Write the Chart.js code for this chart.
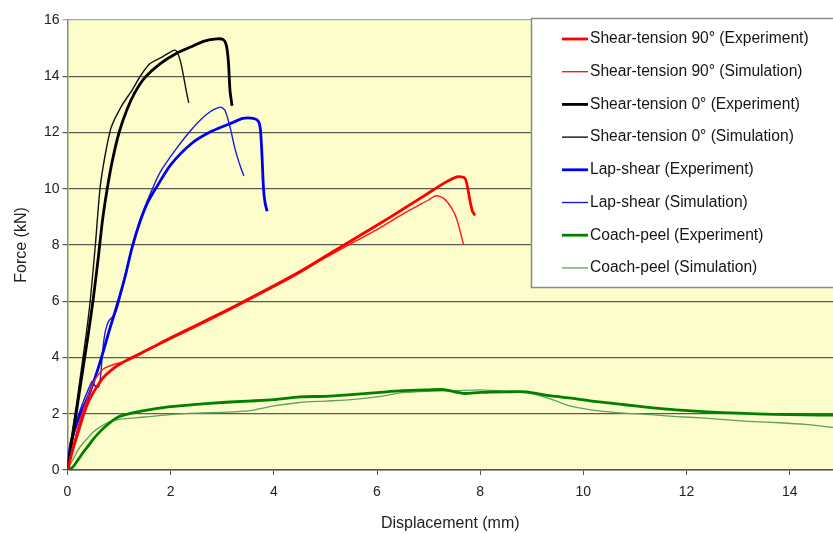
<!DOCTYPE html>
<html>
<head>
<meta charset="utf-8">
<script src="https://cdn.jsdelivr.net/npm/chart.js@4.4.1/dist/chart.umd.min.js"></script>
<style>
  html, body { margin: 0; padding: 0; background: #ffffff; }
  #wrap { width: 833px; height: 534px; position: relative; }
</style>
</head>
<body>
<div id="wrap"><canvas id="c" width="833" height="534"></canvas></div>
<script>
// ---- Data (displacement mm, force kN) ----
const seriesLabels = [
  'Shear-tension 90° (Experiment)',
  'Shear-tension 90° (Simulation)',
  'Shear-tension 0° (Experiment)',
  'Shear-tension 0° (Simulation)',
  'Lap-shear (Experiment)',
  'Lap-shear (Simulation)',
  'Coach-peel (Experiment)',
  'Coach-peel (Simulation)'
];

const st90Exp = [[0,0],[0.1,0.7],[0.2,1.3],[0.3,1.9],[0.4,2.4],[0.5,2.75],[0.6,3.05],[0.7,3.3],[0.85,3.55],[1.0,3.75],[1.25,4.0],[1.6,4.32],[2.0,4.7],[2.5,5.15],[3.0,5.6],[3.5,6.07],[4.0,6.55],[4.5,7.05],[5.0,7.6],[5.5,8.15],[6.0,8.7],[6.5,9.27],[7.0,9.85],[7.3,10.2],[7.55,10.42],[7.7,10.38],[7.75,10.1],[7.8,9.6],[7.85,9.2],[7.9,9.05]];
const st90Sim = [[0,0],[0.1,0.8],[0.2,1.5],[0.3,2.1],[0.4,2.6],[0.5,3.1],[0.6,3.4],[0.7,3.6],[0.9,3.75],[1.15,3.88],[1.3,4.0],[1.6,4.3],[2.0,4.65],[2.5,5.1],[3.0,5.55],[3.5,6.02],[4.0,6.5],[4.5,7.0],[5.0,7.55],[5.5,8.05],[6.0,8.55],[6.5,9.1],[7.0,9.6],[7.15,9.75],[7.3,9.65],[7.45,9.3],[7.55,8.9],[7.68,8.0]];
const st0Exp = [[0,0],[0.1,1.2],[0.2,2.4],[0.3,3.6],[0.4,4.8],[0.5,6.1],[0.6,7.6],[0.68,8.9],[0.77,10.0],[0.87,11.0],[1.0,12.0],[1.15,12.8],[1.3,13.4],[1.5,13.95],[1.8,14.45],[2.1,14.8],[2.4,15.05],[2.65,15.25],[2.9,15.33],[3.02,15.3],[3.08,15.1],[3.12,14.5],[3.15,13.5],[3.19,12.95]];
const st0Sim = [[0,0],[0.08,1.2],[0.18,2.4],[0.27,3.6],[0.36,4.8],[0.44,6.0],[0.54,8.0],[0.63,10.0],[0.73,11.2],[0.85,12.2],[1.05,12.95],[1.25,13.5],[1.41,14.0],[1.6,14.45],[1.85,14.7],[2.09,14.93],[2.18,14.6],[2.25,14.0],[2.3,13.5],[2.35,13.05]];
const lapExp = [[0,0],[0.05,0.8],[0.1,1.2],[0.2,1.75],[0.3,2.2],[0.4,2.6],[0.5,3.1],[0.6,3.65],[0.7,4.25],[0.8,4.9],[0.9,5.5],[1.0,6.1],[1.12,6.9],[1.25,7.9],[1.4,8.8],[1.55,9.5],[1.74,10.1],[2.0,10.85],[2.4,11.6],[2.8,12.05],[3.2,12.35],[3.4,12.5],[3.6,12.5],[3.7,12.4],[3.74,12.1],[3.77,11.2],[3.8,10.0],[3.83,9.5],[3.87,9.2]];
const lapSim = [[0,0],[0.05,0.9],[0.1,1.3],[0.2,1.9],[0.3,2.4],[0.4,2.85],[0.48,3.15],[0.53,3.0],[0.6,2.95],[0.64,3.3],[0.68,4.2],[0.73,4.9],[0.8,5.3],[0.92,5.55],[1.0,6.0],[1.1,6.8],[1.25,7.9],[1.4,8.85],[1.6,9.8],[1.8,10.6],[2.1,11.4],[2.4,12.1],[2.7,12.65],[2.96,12.9],[3.05,12.8],[3.15,12.2],[3.25,11.4],[3.35,10.8],[3.42,10.45]];
const peelExp = [[0,0],[0.1,0.1],[0.2,0.35],[0.3,0.62],[0.4,0.85],[0.5,1.1],[0.65,1.4],[0.8,1.65],[1.0,1.9],[1.3,2.05],[1.6,2.15],[2.0,2.25],[2.5,2.33],[3.0,2.4],[3.5,2.45],[4.0,2.5],[4.5,2.6],[5.0,2.62],[5.5,2.68],[6.0,2.75],[6.5,2.82],[7.0,2.85],[7.3,2.86],[7.5,2.78],[7.7,2.72],[8.0,2.76],[8.5,2.78],[8.9,2.78],[9.3,2.65],[9.8,2.55],[10.3,2.42],[10.8,2.32],[11.3,2.22],[11.8,2.14],[12.4,2.07],[13.0,2.02],[13.7,1.98],[14.3,1.96],[14.9,1.95]];
const peelSim = [[0,0],[0.1,0.35],[0.2,0.7],[0.3,0.95],[0.4,1.15],[0.5,1.35],[0.65,1.55],[0.8,1.7],[1.0,1.8],[1.3,1.85],[1.6,1.9],[2.0,1.97],[2.5,2.02],[3.0,2.05],[3.5,2.1],[4.0,2.28],[4.5,2.4],[5.0,2.45],[5.5,2.5],[6.0,2.6],[6.5,2.75],[7.0,2.8],[7.5,2.82],[8.0,2.85],[8.5,2.8],[9.0,2.72],[9.4,2.5],[9.8,2.25],[10.3,2.1],[10.8,2.02],[11.3,1.97],[11.8,1.9],[12.3,1.85],[12.8,1.78],[13.3,1.72],[13.8,1.68],[14.3,1.62],[14.9,1.5]];

const xTicks = [0, 2, 4, 6, 8, 10, 12, 14];
const yTicks = [0, 2, 4, 6, 8, 10, 12, 14, 16];

// ---- styles ----
const seriesData = [st90Exp, st90Sim, st0Exp, st0Sim, lapExp, lapSim, peelExp, peelSim];
const seriesColors = ['#ff0000', '#ff1a1a', '#000000', '#111111', '#0000f0', '#1a1ae0', '#008000', '#5fa05f'];
const seriesWidths = [2.8, 1.4, 2.8, 1.4, 2.8, 1.4, 2.8, 1.3];

const datasets = seriesData.map((d, i) => ({
  label: seriesLabels[i],
  data: d.map(p => ({x: p[0], y: p[1]})),
  borderColor: seriesColors[i],
  backgroundColor: seriesColors[i],
  borderWidth: seriesWidths[i],
  showLine: true,
  pointRadius: 0,
  tension: 0.25,
  fill: false
}));

const plotBg = {
  id: 'plotBg',
  beforeDraw(chart) {
    const {ctx, chartArea: a} = chart;
    ctx.save();
    ctx.fillStyle = '#fdfccb';
    ctx.fillRect(a.left, a.top, a.right - a.left, a.bottom - a.top);
    ctx.restore();
  }
};

const boxLegend = {
  id: 'boxLegend',
  afterDraw(chart) {
    const ctx = chart.ctx;
    const bx = 531.5, by = 18.5, bw = 310, bh = 269;
    ctx.save();
    ctx.fillStyle = '#ffffff';
    ctx.fillRect(bx, by, bw, bh);
    ctx.strokeStyle = '#8a8a80';
    ctx.lineWidth = 1.5;
    ctx.strokeRect(bx, by, bw, bh);
    ctx.font = '15.6px "Liberation Sans", Arial, sans-serif';
    ctx.textBaseline = 'middle';
    ctx.fillStyle = '#151515';
    chart.data.datasets.forEach((ds, i) => {
      const y = 39 + i * 32.7;
      ctx.strokeStyle = ds.borderColor;
      ctx.lineWidth = ds.borderWidth;
      ctx.beginPath();
      ctx.moveTo(562, y);
      ctx.lineTo(588, y);
      ctx.stroke();
      ctx.fillText(ds.label, 590, y);
    });
    ctx.restore();
  }
};

new Chart(document.getElementById('c'), {
  type: 'scatter',
  data: { datasets },
  options: {
    responsive: false,
    animation: false,
    layout: { padding: { top: 20, right: 0, left: 0, bottom: 0 } },
    plugins: { legend: { display: false }, tooltip: { enabled: false } },
    scales: {
      x: {
        type: 'linear',
        min: 0,
        max: 14.84,
        afterFit(s) { s.height = 64; },
        afterBuildTicks(s) { s.ticks = xTicks.map(v => ({value: v})); },
        ticks: { includeBounds: false, padding: 9, color: '#222', font: { family: '"Liberation Sans", Arial, sans-serif', size: 14 }, maxRotation: 0 },
        grid: { drawOnChartArea: false, drawTicks: true, tickLength: 5, color: '#555', lineWidth: 1 },
        border: { display: true, color: '#555', width: 1.5 },
        title: { display: true, text: 'Displacement (mm)', color: '#222', font: { family: '"Liberation Sans", Arial, sans-serif', size: 16 }, padding: { top: 0, bottom: 1 } }
      },
      y: {
        type: 'linear',
        min: 0,
        max: 16,
        afterFit(s) { s.width = 67.5; },
        afterBuildTicks(s) { s.ticks = yTicks.map(v => ({value: v})); },
        ticks: { padding: 3, color: '#222', font: { family: '"Liberation Sans", Arial, sans-serif', size: 14 } },
        grid: {
          drawTicks: true,
          tickLength: 5,
          color: c => (c.tick && c.tick.value === 16) ? '#a8a8a0' : '#5a5a50',
          lineWidth: 1.2
        },
        border: { display: true, color: '#8a8a80', width: 1.5 },
        title: { display: true, text: 'Force (kN)', color: '#222', font: { family: '"Liberation Sans", Arial, sans-serif', size: 16 }, padding: { top: 12, bottom: 0 } }
      }
    }
  },
  plugins: [plotBg, boxLegend]
});
</script>
</body>
</html>
